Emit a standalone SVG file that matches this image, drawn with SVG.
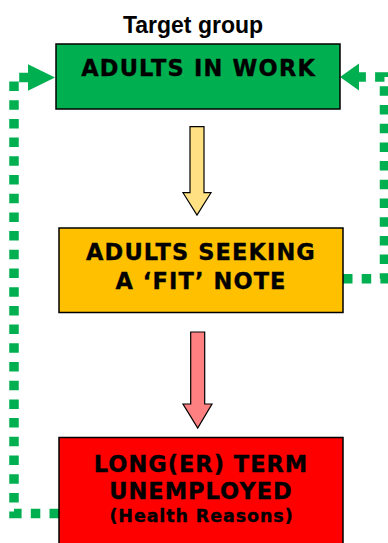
<svg xmlns="http://www.w3.org/2000/svg" width="388" height="543" viewBox="0 0 388 543">
<style>
.box{stroke:#000;stroke-width:1.5}
.t{font-family:"DejaVu Sans","Verdana",sans-serif;font-weight:bold;text-anchor:middle;fill:#000;stroke:#000;stroke-width:0.35}
.dot{fill:none;stroke:#00b050;stroke-width:9.5;stroke-dasharray:9.5 9.2}
.arr{stroke:#000;stroke-width:1.2;stroke-linejoin:miter}
</style>
<rect width="388" height="543" fill="#fff"/>
<g id="connectors">
<path class="dot" d="M59,513.5 H14 V77.5 H28"/>
<polygon points="28,64.3 55,77.5 28,90.7" fill="#00b050"/>
<path class="dot" d="M343,278.7 H384.5 V77 H359"/>
<polygon points="359,63.5 340,77 359,90.5" fill="#00b050"/>
<polygon class="arr" fill="#ffe083" points="190,126.7 204,126.7 204,192.7 211,192.7 197,215 183,192.7 190,192.7"/>
<polygon class="arr" fill="#ff8080" points="190.7,332 204.7,332 204.7,404 212,404 197.7,428 183,404 190.7,404"/>
</g>
<text x="193" y="33" font-family="Liberation Sans,Arial,sans-serif" font-weight="bold" font-size="23" text-anchor="middle">Target group</text>
<g id="adults-in-work">
<rect class="box" x="56" y="44" width="284" height="65" fill="#00b050"/>
<text class="t" x="198.6" y="76" font-size="22.5" letter-spacing="1.2">ADULTS IN WORK</text>
</g>
<g id="adults-seeking-fit-note">
<rect class="box" x="59" y="228" width="284" height="84.5" fill="#ffc000"/>
<text class="t" x="201" y="259.5" font-size="22.5" letter-spacing="1.1">ADULTS SEEKING</text>
<text class="t" x="201" y="288.5" font-size="22.5" letter-spacing="1.1">A ‘FIT’ NOTE</text>
</g>
<g id="longer-term-unemployed">
<rect class="box" x="59" y="437.5" width="284" height="130" fill="#ff0000"/>
<text class="t" x="201" y="471.5" font-size="22.5" letter-spacing="1">LONG(ER) TERM</text>
<text class="t" x="201" y="498.5" font-size="22.5" letter-spacing="1">UNEMPLOYED</text>
<text class="t" x="201.5" y="522" font-size="17.5" letter-spacing="0.9">(Health Reasons)</text>
</g>
</svg>
